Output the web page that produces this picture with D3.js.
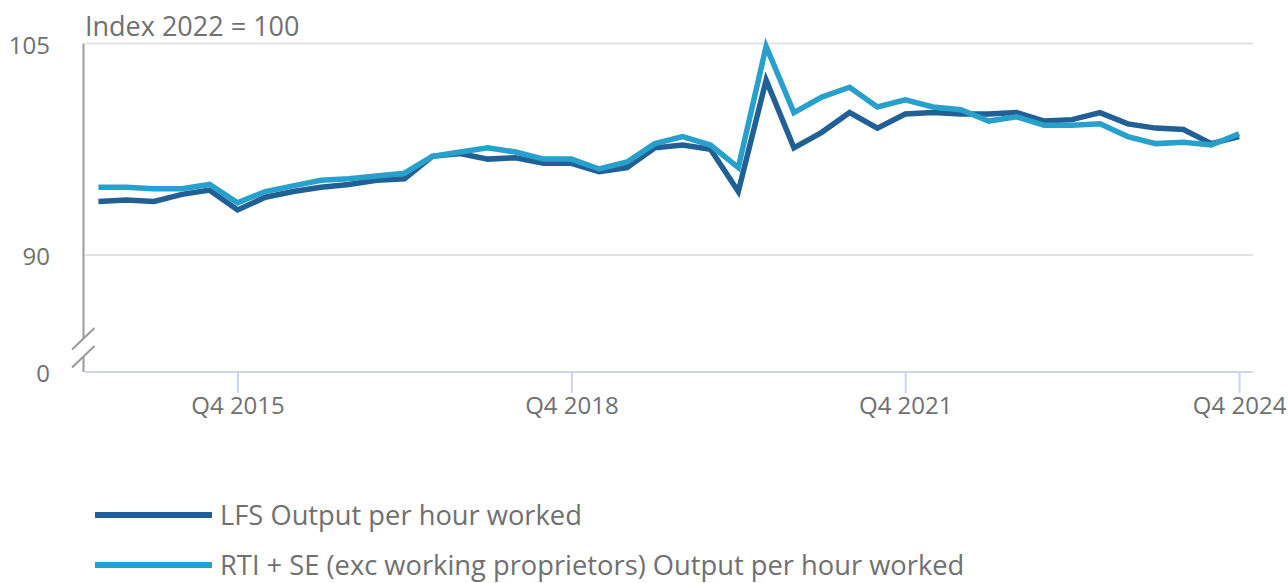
<!DOCTYPE html>
<html>
<head>
<meta charset="utf-8">
<script src="https://cdn.jsdelivr.net/npm/d3@7"></script>
<style>
    body { margin: 0; background: #fff; }
    svg { display: block; font-family: "Open Sans", sans-serif; }
</style>
</head>
<body>
<div id="chart"></div>
<script>
const quarters = [
    "Q3 2014", "Q4 2014",
    "Q1 2015", "Q2 2015", "Q3 2015", "Q4 2015",
    "Q1 2016", "Q2 2016", "Q3 2016", "Q4 2016",
    "Q1 2017", "Q2 2017", "Q3 2017", "Q4 2017",
    "Q1 2018", "Q2 2018", "Q3 2018", "Q4 2018",
    "Q1 2019", "Q2 2019", "Q3 2019", "Q4 2019",
    "Q1 2020", "Q2 2020", "Q3 2020", "Q4 2020",
    "Q1 2021", "Q2 2021", "Q3 2021", "Q4 2021",
    "Q1 2022", "Q2 2022", "Q3 2022", "Q4 2022",
    "Q1 2023", "Q2 2023", "Q3 2023", "Q4 2023",
    "Q1 2024", "Q2 2024", "Q3 2024", "Q4 2024"
];

const lfs = [
    93.8, 93.9,
    93.8, 94.3, 94.6, 93.2,
    94.1, 94.5, 94.8, 95.0,
    95.3, 95.4, 97.0, 97.2,
    96.8, 96.9, 96.5, 96.5,
    95.9, 96.2, 97.6, 97.8,
    97.5, 94.5, 102.4, 97.6,
    98.7, 100.1, 99.0, 100.0,
    100.1, 100.0, 100.0, 100.1,
    99.5, 99.6, 100.1, 99.3,
    99.0, 98.9, 97.9, 98.4
];

const rti = [
    94.8, 94.8,
    94.7, 94.7, 95.0, 93.7,
    94.5, 94.9, 95.3, 95.4,
    95.6, 95.8, 97.0, 97.3,
    97.6, 97.3, 96.8, 96.8,
    96.1, 96.6, 97.9, 98.4,
    97.8, 96.2, 104.8, 100.1,
    101.2, 101.9, 100.5, 101.0,
    100.5, 100.3, 99.5, 99.8,
    99.2, 99.2, 99.3, 98.4,
    97.9, 98.0, 97.8, 98.6
];

const xTickLabels = ["Q4 2015", "Q4 2018", "Q4 2021", "Q4 2024"];
const yTicks = [0, 90, 105];

const series = [
    { name: "LFS Output per hour worked", values: lfs, color: "#206095" },
    { name: "RTI + SE (exc working proprietors) Output per hour worked", values: rti, color: "#27a0cc" }
];

const width = 1288;
const height = 583;
const textColor = "#707070";

const svg = d3.select("#chart").append("svg")
    .attr("width", width)
    .attr("height", height);

// scales: y axis is broken between 0 and 90
const xScale = d3.scalePoint().domain(quarters).range([84.5, 1253]).padding(0.5);
const yScale = d3.scaleLinear().domain([0, 90, 105]).range([372, 255, 43.5]);

// gridlines
svg.append("g")
    .selectAll("line")
    .data(yTicks.filter(d => d > 0))
    .enter().append("line")
    .attr("x1", 85)
    .attr("x2", 1253)
    .attr("y1", d => yScale(d))
    .attr("y2", d => yScale(d))
    .attr("stroke", "#e2e2e2")
    .attr("stroke-width", 2);

// y tick labels
svg.append("g")
    .selectAll("text")
    .data(yTicks)
    .enter().append("text")
    .attr("x", 50)
    .attr("y", d => yScale(d) + 10)
    .attr("text-anchor", "end")
    .attr("font-size", 24)
    .attr("fill", textColor)
    .text(d => d);

// y axis line with break marks
const yAxis = svg.append("g")
    .attr("stroke", "#9a9a9a")
    .attr("stroke-width", 2);
yAxis.append("line")
    .attr("x1", 83.5).attr("x2", 83.5)
    .attr("y1", yScale(105)).attr("y2", 338.5);
yAxis.append("line")
    .attr("x1", 83.5).attr("x2", 83.5)
    .attr("y1", 356.5).attr("y2", yScale(0));
yAxis.append("line")
    .attr("x1", 72).attr("y1", 349.5)
    .attr("x2", 94.5).attr("y2", 328);
yAxis.append("line")
    .attr("x1", 72).attr("y1", 367.5)
    .attr("x2", 94.5).attr("y2", 346);

// x axis
const xAxis = svg.append("g")
    .attr("transform", `translate(0, ${yScale(0)})`)
    .call(d3.axisBottom(xScale)
        .tickValues(xTickLabels)
        .tickSize(21)
        .tickPadding(4));
xAxis.select(".domain")
    .attr("d", "M85,0H1253")
    .attr("stroke", "#cdd6e8")
    .attr("stroke-width", 2);
xAxis.selectAll(".tick line")
    .attr("stroke", "#cdd6e8")
    .attr("stroke-width", 2);
xAxis.selectAll(".tick text")
    .attr("font-size", 24)
    .attr("font-family", "Open Sans")
    .attr("fill", textColor);

// title
svg.append("text")
    .attr("x", 85)
    .attr("y", 36)
    .attr("font-size", 27)
    .attr("fill", textColor)
    .text("Index 2022 = 100");

// lines
const line = d3.line()
    .x((d, i) => xScale(quarters[i]))
    .y(d => yScale(d));

svg.append("g")
    .selectAll("path")
    .data(series)
    .enter().append("path")
    .attr("d", d => line(d.values))
    .attr("fill", "none")
    .attr("stroke", d => d.color)
    .attr("stroke-width", 5.5)
    .attr("stroke-linejoin", "miter");

// legend (second row nudged up so its descenders stay on the page)
const legend = svg.append("g")
    .selectAll("g")
    .data(series)
    .enter().append("g")
    .attr("transform", (d, i) => `translate(0, ${515 + i * 50})`);

legend.append("line")
    .attr("x1", 95)
    .attr("x2", 212)
    .attr("stroke", d => d.color)
    .attr("stroke-width", 6);

legend.append("text")
    .attr("x", 220)
    .attr("y", 10)
    .attr("font-size", 27.3)
    .attr("fill", textColor)
    .text(d => d.name);
</script>
</body>
</html>
